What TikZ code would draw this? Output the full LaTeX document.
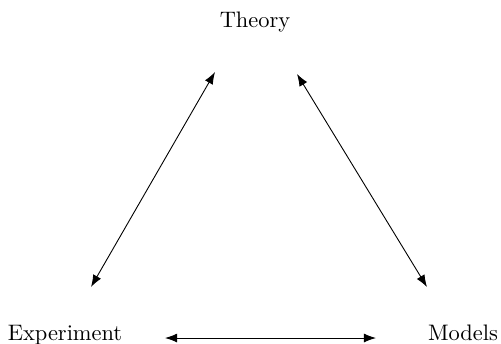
\documentclass[tikz,border=0pt]{standalone}
\usetikzlibrary{arrows.meta}
\begin{document}
\begin{tikzpicture}[x=0.446pt,y=-0.446pt,
  link/.style={{Latex[length=5.4pt,width=4pt]}-{Latex[length=5.4pt,width=4pt]}, line width=0.4pt},
  lbl/.style={inner sep=0pt, anchor=base}]
\useasboundingbox (0,0) rectangle (501,343);
\node[lbl] (theory) at (255,27) {Theory};
\node[lbl] (experiment) at (65,340) {Experiment};
\node[lbl] (models) at (463,340) {Models};
\coordinate (t1) at (215,72);
\coordinate (e1) at (91,287);
\coordinate (t2) at (297,74);
\coordinate (m1) at (427,287);
\coordinate (e2) at (165,338);
\coordinate (m2) at (376,338);
\draw[link] (t1) -- (e1);
\draw[link] (t2) -- (m1);
\draw[link] (e2) -- (m2);
\end{tikzpicture}
\end{document}
